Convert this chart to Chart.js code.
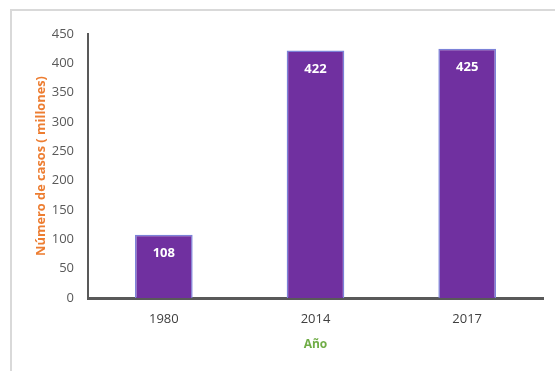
<!DOCTYPE html>
<html>
<head>
<meta charset="utf-8">
<script src="https://cdn.jsdelivr.net/npm/chart.js@4/dist/chart.umd.min.js"></script>
<style>
    html, body { margin: 0; padding: 0; background: #fff; overflow: hidden; }
    #frame { position: absolute; left: 10px; top: 9px; width: 560px; height: 380px; border: 2px solid #d9d9d9; box-sizing: border-box; }
    #wrap { position: absolute; left: 0; top: 0; width: 555px; height: 371px; }
</style>
</head>
<body>
<div id="frame"></div>
<div id="wrap"><canvas id="chart" width="555" height="371"></canvas></div>
<script>
const years = ["1980", "2014", "2017"];
const cases = [108, 422, 425];
const yTicks = [0, 50, 100, 150, 200, 250, 300, 350, 400, 450];

// white value labels inside the top of each bar
const barLabels = {
    id: "barLabels",
    afterDatasetsDraw(chart) {
        const ctx = chart.ctx;
        const meta = chart.getDatasetMeta(0);
        ctx.save();
        ctx.fillStyle = "#ffffff";
        ctx.font = "bold 13px 'Open Sans'";
        ctx.textAlign = "center";
        ctx.textBaseline = "middle";
        meta.data.forEach((bar, i) => {
            ctx.fillText(String(cases[i]), bar.x, bar.y + 19);
        });
        ctx.restore();
    },
};

new Chart(document.getElementById("chart"), {
    type: "bar",
    data: {
        labels: years,
        datasets: [{
            data: cases,
            backgroundColor: "#7030a0",
            borderColor: "#7c82d8",
            borderWidth: 1.5,
            barPercentage: 0.38,
            categoryPercentage: 1,
        }],
    },
    options: {
        responsive: false,
        animation: false,
        layout: { padding: { left: 0, right: 12, top: 34, bottom: 0 } },
        plugins: { legend: { display: false }, tooltip: { enabled: false } },
        scales: {
            x: {
                grid: { display: false, drawTicks: false },
                border: { display: true, color: "#595959", width: 3 },
                ticks: { color: "#404040", font: { family: "'Open Sans'", size: 13 }, padding: 13 },
                title: {
                    display: true, text: "Año", color: "#70ad47",
                    font: { family: "'Open Sans'", size: 12, weight: "bold" },
                    padding: { top: 0, bottom: 19 },
                },
                afterFit(scale) { scale.height = 73; },
            },
            y: {
                min: 0, max: 450,
                afterBuildTicks(scale) { scale.ticks = yTicks.map(v => ({ value: v })); },
                grid: { display: false, drawTicks: false },
                border: { display: true, color: "#595959", width: 2 },
                ticks: { color: "#595959", font: { family: "'Open Sans'", size: 13 }, padding: 14 },
                title: {
                    display: true, text: "Número de casos ( millones)", color: "#ed7d31",
                    font: { family: "'Open Sans'", size: 12.8, weight: "bold" },
                    padding: { top: 34, bottom: 0 },
                },
                afterFit(scale) { scale.width = 88; },
            },
        },
    },
    plugins: [barLabels],
});
</script>
</body>
</html>
